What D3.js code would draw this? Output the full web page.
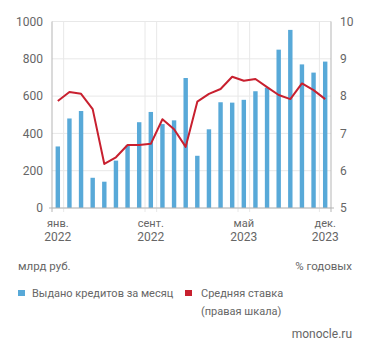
<!DOCTYPE html>
<html><head><meta charset="utf-8">
<script src="https://cdn.jsdelivr.net/npm/d3@7"></script>
<style>
body{margin:0;background:#fff;}
text{font-family:Roboto,sans-serif;fill:#666;}
</style></head><body>
<svg id="c" width="371" height="356"></svg>
<script>
const months = ["2022-01","2022-02","2022-03","2022-04","2022-05","2022-06","2022-07","2022-08","2022-09","2022-10","2022-11","2022-12",
"2023-01","2023-02","2023-03","2023-04","2023-05","2023-06","2023-07","2023-08","2023-09","2023-10","2023-11","2023-12"];
const loans = [330,480,520,162,141,254,335,460,515,450,470,697,280,422,567,565,580,626,645,849,955,770,726,785];
const rate = [7.87,8.11,8.06,7.65,6.18,6.36,6.69,6.69,6.72,7.38,7.11,6.64,7.85,8.06,8.19,8.52,8.41,8.46,8.24,8.03,7.92,8.34,8.16,7.92];
const tickMonths = ["2022-01","2022-09","2023-05","2023-12"];
const tickLabels = [["янв.","2022"],["сент.","2022"],["май","2023"],["дек.","2023"]];
const leftTicks = [0,200,400,600,800,1000];
const rightTicks = [5,6,7,8,9,10];
const legendLabels = ["Выдано кредитов за месяц","Средняя ставка","(правая шкала)"];

const svg = d3.select("#c");
const L = 52, R = 331, T = 21.5, B = 208;
const blue = "#58a9d8", red = "#c8202f", grid = "#e8e8e8", axisC = "#b5b5b5";

const x = d3.scaleBand().domain(months).range([L,R]).paddingInner(0.62).paddingOuter(0.31);
const yL = d3.scaleLinear().domain([0,1000]).range([B,T]);
const yR = d3.scaleLinear().domain([5,10]).range([B,T]);
const step = x.step();
const cx = m => x(m) + x.bandwidth()/2;

// horizontal grid
svg.append("g").selectAll("line").data(leftTicks).join("line")
  .attr("x1",L).attr("x2",R).attr("y1",d=>yL(d)).attr("y2",d=>yL(d))
  .attr("stroke",grid).attr("stroke-width",1);

// vertical grid at band edges of tick months
const vEdges = [];
tickMonths.forEach(m=>{ const c=cx(m); vEdges.push(c-step/2, c+step/2); });
svg.append("g").selectAll("line").data(vEdges.filter(v=>v>L+1 && v<R-1)).join("line")
  .attr("x1",d=>d).attr("x2",d=>d).attr("y1",T).attr("y2",B+4)
  .attr("stroke",grid).attr("stroke-width",1);

// bars
svg.append("g").selectAll("rect").data(months).join("rect")
  .attr("x",d=>x(d)).attr("width",x.bandwidth())
  .attr("y",(d,i)=>yL(loans[i])).attr("height",(d,i)=>B-yL(loans[i]))
  .attr("fill",blue);

// line
svg.append("path").datum(rate)
  .attr("d",d3.line().x((d,i)=>cx(months[i])).y(d=>yR(d)))
  .attr("fill","none").attr("stroke",red).attr("stroke-width",2).attr("stroke-linejoin","round");

// axes lines
svg.append("line").attr("x1",L).attr("x2",L).attr("y1",T).attr("y2",B+4).attr("stroke",axisC);
svg.append("line").attr("x1",R).attr("x2",R).attr("y1",T).attr("y2",B+4).attr("stroke",axisC);
svg.append("line").attr("x1",L-3).attr("x2",R+3).attr("y1",B).attr("y2",B).attr("stroke",axisC);

// left labels
svg.append("g").selectAll("text").data(leftTicks).join("text")
  .attr("x",43).attr("y",d=>yL(d)).attr("dy","0.35em").attr("text-anchor","end")
  .attr("font-size",12).text(d=>d);
// right labels
svg.append("g").selectAll("text").data(rightTicks).join("text")
  .attr("x",340).attr("y",d=>yR(d)).attr("dy","0.35em").attr("text-anchor","start")
  .attr("font-size",12).text(d=>d);

// x labels
const xl = svg.append("g").selectAll("g").data(tickMonths).join("g")
  .attr("transform",d=>`translate(${cx(d)},0)`);
xl.append("text").attr("y",223.5).attr("dy","0.35em").attr("text-anchor","middle").attr("font-size",11)
  .text((d,i)=>tickLabels[i][0]);
xl.append("text").attr("y",237).attr("dy","0.35em").attr("text-anchor","middle").attr("font-size",12)
  .text((d,i)=>tickLabels[i][1]);

// units
svg.append("text").attr("x",18).attr("y",266).attr("dy","0.35em").attr("font-size",11.5).text("млрд руб.");
svg.append("text").attr("x",352).attr("y",266).attr("dy","0.35em").attr("text-anchor","end").attr("font-size",11.5).text("% годовых");

// legend
svg.append("rect").attr("x",18).attr("y",290).attr("width",7).attr("height",6).attr("fill",blue);
svg.append("text").attr("x",32).attr("y",293).attr("dy","0.35em").attr("font-size",11).text(legendLabels[0]);
svg.append("rect").attr("x",185).attr("y",290).attr("width",7).attr("height",6).attr("fill",red);
svg.append("text").attr("x",201).attr("y",293).attr("dy","0.35em").attr("font-size",11).text(legendLabels[1]);
svg.append("text").attr("x",201).attr("y",311).attr("dy","0.35em").attr("font-size",11).text(legendLabels[2]);

svg.append("text").attr("x",352).attr("y",334).attr("dy","0.35em").attr("text-anchor","end").attr("font-size",12).text("monocle.ru");
</script></body></html>
